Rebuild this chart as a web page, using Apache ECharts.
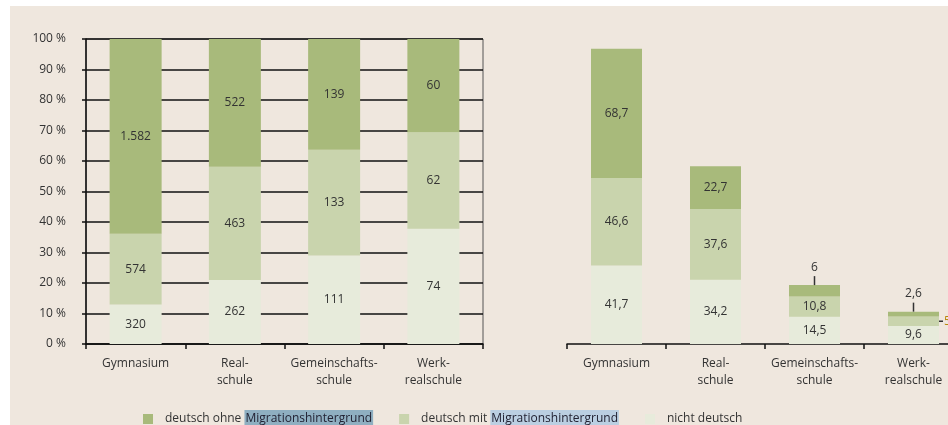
<!DOCTYPE html>
<html><head><meta charset="utf-8">
<script src="https://cdn.jsdelivr.net/npm/echarts@6/dist/echarts.min.js"></script>
<style>
html,body{margin:0;padding:0;background:#fff}
#c{width:948px;height:425px;background:linear-gradient(#EFE7DE,#EFE7DE) 10px 6px / 938px 419px no-repeat, #fff}
</style>
</head><body><div id="c"></div><script>
// ---- data ----
const categories = ['Gymnasium', 'Real-\nschule', 'Gemeinschafts-\nschule', 'Werk-\nrealschule'];
const seriesNames = ['deutsch ohne Migrationshintergrund', 'deutsch mit Migrationshintergrund', 'nicht deutsch'];
// left chart: absolute counts (shown as 100 % stacked)
const countsOhne  = [1582, 522, 139, 60];
const countsMit   = [574, 463, 133, 62];
const countsNicht = [320, 262, 111, 74];
// right chart: values
const valuesOhne  = [68.7, 22.7, 6, 2.6];
const valuesMit   = [46.6, 37.6, 10.8, 5.0];
const valuesNicht = [41.7, 34.2, 14.5, 9.6];
const yTickValues = [0, 10, 20, 30, 40, 50, 60, 70, 80, 90, 100];

// ---- style ----
const C_OHNE = '#A8BA7B', C_MIT = '#C9D4AD', C_NICHT = '#E7EBDB';
const FONT = 'Open Sans';
const TXT = '#333';
const BARW = 52;
const outsideTopIdx = [2, 3];   // ohne labels above bar (right chart)
const outsideRightIdx = [3];    // mit label right of bar (right chart)

function deInt(v) { return String(v).replace(/\B(?=(\d{3})+(?!\d))/g, '.'); }
function deDec(v) { return Number.isInteger(v) ? String(v) : String(v).replace('.', ','); }

const totals = countsOhne.map((v, i) => v + countsMit[i] + countsNicht[i]);
const pct = arr => arr.map((v, i) => ({ value: v / totals[i] * 100, count: v }));

const inLabel = {
  show: true, position: 'inside', color: TXT, fontFamily: FONT, fontSize: 12
};

function leftSeries(name, arr, color) {
  return {
    name, type: 'bar', stack: 'L', xAxisIndex: 0, yAxisIndex: 0,
    barWidth: BARW, itemStyle: { color },
    label: Object.assign({}, inLabel, { formatter: p => deInt(p.data.count) }),
    data: pct(arr)
  };
}

function rightSeries(name, arr, color, which) {
  const data = arr.map((v, i) => {
    const d = { value: v };
    if (which === 'ohne' && outsideTopIdx.includes(i)) d.label = { position: 'top', distance: 12 };
    if (which === 'mit' && outsideRightIdx.includes(i)) d.label = { position: 'right', distance: 5, color: '#B8860B' };
    return d;
  });
  return {
    name, type: 'bar', stack: 'R', xAxisIndex: 1, yAxisIndex: 1,
    barWidth: BARW - 1, itemStyle: { color },
    label: Object.assign({}, inLabel, { formatter: p => deDec(p.value) }),
    data
  };
}

// leader lines for outside labels (computed from data)
const leaderData = [];
outsideTopIdx.forEach(i => leaderData.push([i, valuesNicht[i] + valuesMit[i] + valuesOhne[i], 0]));
outsideRightIdx.forEach(i => leaderData.push([i, valuesNicht[i] + valuesMit[i] / 2, 1]));

const axisLabelStyle = { color: TXT, fontFamily: FONT, fontSize: 12 };

const option = {
  animation: false,
  textStyle: { fontFamily: FONT },
  grid: [
    { left: 86, width: 397, top: 39, bottom: 81, show: true, borderColor: '#555', borderWidth: 1, backgroundColor: 'transparent', outerBoundsMode: 'none' },
    { left: 567, width: 396, top: 43, bottom: 81, outerBoundsMode: 'none' }
  ],
  legend: {
    left: 138, top: 405, icon: 'rect', itemWidth: 10, itemHeight: 10, itemGap: 26,
    data: seriesNames,
    textStyle: {
      color: TXT, fontFamily: FONT, fontSize: 12,
      rich: {
        t: { color: TXT, fontFamily: FONT, fontSize: 12, padding: [0, 0, 0, 7] },
        h1: { color: '#223', fontFamily: FONT, fontSize: 12, backgroundColor: '#8FAFC1', padding: [3, 1, 3, 1] },
        h2: { color: '#223', fontFamily: FONT, fontSize: 12, backgroundColor: '#BBCFE2', padding: [3, 1, 3, 1] }
      }
    },
    formatter: name => {
      if (name === seriesNames[0]) return '{t|deutsch ohne }{h1|Migrationshintergrund}';
      if (name === seriesNames[1]) return '{t|deutsch mit }{h2|Migrationshintergrund}';
      return '{t|' + name + '}';
    }
  },
  xAxis: [
    {
      type: 'category', gridIndex: 0, data: categories,
      axisLine: { lineStyle: { color: '#111', width: 1.5 } },
      axisTick: { show: true, length: 5, lineStyle: { color: '#111', width: 1.5 } },
      axisLabel: Object.assign({}, axisLabelStyle, { interval: 0, margin: 11, lineHeight: 17 })
    },
    {
      type: 'category', gridIndex: 1, data: categories,
      axisLine: { lineStyle: { color: '#111', width: 1.5 } },
      axisTick: { show: true, length: 5, lineStyle: { color: '#111', width: 1.5 } },
      axisLabel: Object.assign({}, axisLabelStyle, { interval: 0, margin: 11, lineHeight: 17 })
    }
  ],
  yAxis: [
    {
      type: 'value', gridIndex: 0, min: 0, max: 100, interval: 10,
      axisLine: { show: true, lineStyle: { color: '#111', width: 1.5 } },
      axisTick: { show: true, length: 4, lineStyle: { color: '#111', width: 1.5 } },
      splitLine: { show: true, lineStyle: { color: '#111', width: 1.5 } },
      axisLabel: Object.assign({}, axisLabelStyle, {
        margin: 20,
        customValues: yTickValues,
        formatter: v => v + ' %'
      })
    },
    { type: 'value', gridIndex: 1, min: 0, max: 160, show: false, splitLine: { show: false } }
  ],
  series: [
    leftSeries(seriesNames[2], countsNicht, C_NICHT),
    leftSeries(seriesNames[1], countsMit, C_MIT),
    leftSeries(seriesNames[0], countsOhne, C_OHNE),
    rightSeries(seriesNames[2], valuesNicht, C_NICHT, 'nicht'),
    rightSeries(seriesNames[1], valuesMit, C_MIT, 'mit'),
    rightSeries(seriesNames[0], valuesOhne, C_OHNE, 'ohne'),
    {
      type: 'custom', xAxisIndex: 1, yAxisIndex: 1, silent: true, z: 5,
      data: leaderData,
      renderItem: (params, api) => {
        const p = api.coord([api.value(0), api.value(1)]);
        const kind = api.value(2);
        let shape;
        if (kind === 0) shape = { x1: p[0], y1: p[1], x2: p[0], y2: p[1] - 9 };
        else { const x = p[0] + (BARW - 1) / 2; shape = { x1: x, y1: p[1], x2: x + 4, y2: p[1] }; }
        return { type: 'line', shape, style: { stroke: '#333', lineWidth: 1.5 } };
      }
    }
  ]
};

const chart = echarts.init(document.getElementById('c'));
chart.setOption(option);
</script></body></html>
